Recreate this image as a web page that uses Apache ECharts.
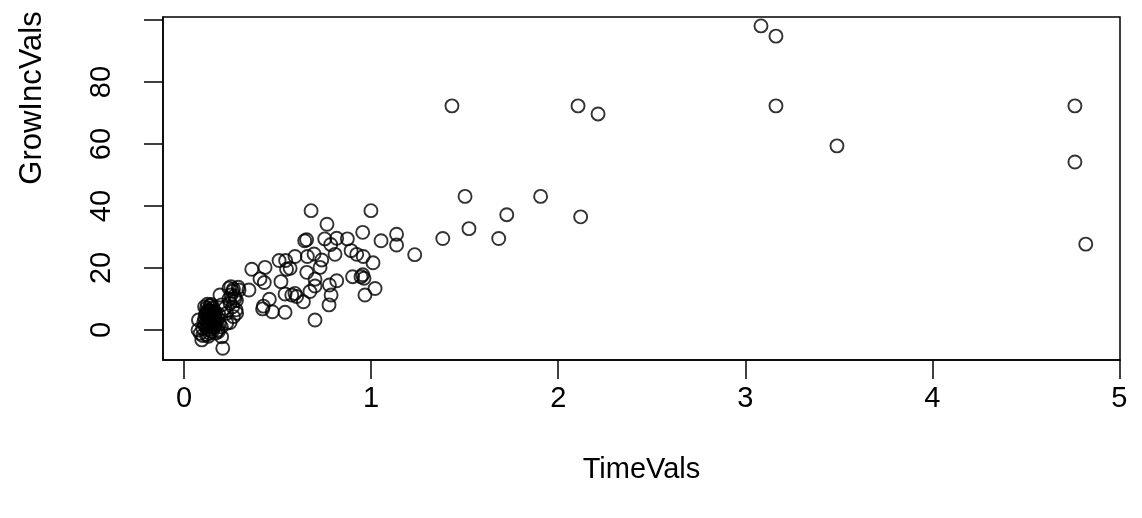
<!DOCTYPE html>
<html>
<head>
<meta charset="utf-8">
<script src="https://cdn.jsdelivr.net/npm/echarts@6/dist/echarts.min.js"></script>
<style>
html,body{margin:0;padding:0;background:#fff;}
#chart{width:1142px;height:518px;}
</style>
</head>
<body>
<div id="chart"></div>
<script>
// ---- data ----
const timeVals = [
  1.432, 2.106, 2.213, 3.084, 3.164, 3.164, 3.490, 4.762, 4.762, 4.820,
  1.502, 1.906, 1.725, 2.120, 1.523, 1.383, 1.682,
  0.679, 0.999, 0.764, 0.955, 1.136, 1.053, 1.136, 1.233, 0.645, 0.655,
  0.752, 0.816, 0.873, 0.784, 0.807, 0.893, 0.923, 0.958, 1.010, 0.593,
  0.659, 0.695, 0.736, 0.727, 0.656, 0.567, 0.700, 0.816, 0.901, 0.946,
  0.962, 0.955, 0.777, 0.700, 0.673, 1.021, 0.967, 0.786, 0.775, 0.638,
  0.593, 0.700,
  0.362, 0.433, 0.406, 0.429, 0.508, 0.543, 0.548, 0.518, 0.540, 0.576,
  0.602, 0.424, 0.472, 0.540, 0.420, 0.456, 0.347, 0.294, 0.264, 0.192,
  0.251, 0.273, 0.246, 0.278, 0.228, 0.281, 0.228, 0.246, 0.219, 0.201,
  0.264, 0.207, 0.201, 0.184, 0.086, 0.077, 0.095, 0.075,
  0.250, 0.260, 0.270, 0.240, 0.280, 0.260, 0.240, 0.290,
  0.110, 0.120, 0.130, 0.140, 0.150, 0.120, 0.130, 0.140, 0.150, 0.110,
  0.120, 0.130, 0.140, 0.150, 0.160, 0.110, 0.120, 0.130, 0.140, 0.150,
  0.160, 0.170, 0.100, 0.100, 0.120, 0.130, 0.170, 0.180, 0.190, 0.160,
  0.180, 0.200, 0.170, 0.145, 0.125,
  0.135, 0.145, 0.155, 0.125, 0.135, 0.145, 0.155, 0.165, 0.115, 0.135,
  0.145, 0.155, 0.125, 0.165, 0.185, 0.105
];
const growIncVals = [
  72.3, 72.3, 69.7, 98.1, 94.8, 72.3, 59.4, 72.3, 54.2, 27.7,
  43.1, 43.1, 37.2, 36.5, 32.7, 29.5, 29.5,
  38.5, 38.5, 34.1, 31.5, 30.9, 28.8, 27.4, 24.3, 28.8, 29.1,
  29.4, 29.6, 29.4, 27.6, 24.4, 25.6, 24.4, 23.7, 21.7, 23.7,
  23.7, 24.5, 22.6, 20.2, 18.6, 19.9, 16.4, 15.9, 17.2, 17.2,
  16.7, 17.8, 14.5, 14.2, 12.4, 13.4, 11.3, 11.3, 8.1, 9.1,
  11.8, 3.2,
  19.6, 20.2, 16.5, 15.3, 22.4, 22.4, 19.6, 15.6, 11.6, 11.3,
  10.8, 7.7, 5.9, 5.7, 6.8, 9.9, 12.9, 12.9, 13.2, 11.3,
  11.3, 10.2, 8.6, 6.5, 5.4, 5.4, 2.2, 2.4, 7.0, 8.1,
  4.3, -5.9, -2.2, -0.5, -1.1, 3.2, -3.2, 0.0,
  14.0, 12.5, 11.0, 13.5, 9.5, 7.5, 10.0, 13.8,
  7.5, 7.0, 6.5, 7.8, 6.8, 5.5, 4.8, 5.2, 4.5, 3.8,
  3.0, 2.5, 3.5, 2.0, 3.0, 1.5, 0.8, 0.2, 1.0, -0.5,
  0.8, 1.8, 0.5, -1.8, -1.5, -2.0, 5.5, 3.8, 2.0, 6.0,
  0.0, 1.0, -1.0, 8.2, 8.3,
  6.2, 6.0, 5.8, 4.2, 3.6, 2.8, 1.2, 4.0, 5.0, -1.0,
  4.0, 7.2, 6.0, 2.2, 5.0, 2.5
];
const xTicks = [0, 1, 2, 3, 4, 5];
const yTicks = [0, 20, 40, 60, 80, 100];
const xTitle = 'TimeVals';
const yTitle = 'GrowIncVals';

const points = timeVals.map((t, i) => [t, growIncVals[i]]);
const FONT = 'Liberation Sans, Arial, Helvetica, sans-serif';
const FS = 29;
const TICK = 19;

// main plot box: x -0.1125..5.003 over 163..1120 px, y -9.68..100.97 over 360..17 px
const X0 = 163, XW = 957, Y0 = 17, YH = 343;
const xMin = -0.1125, xMax = 5.003, yMin = -9.68, yMax = 100.97;
const xPx = v => X0 + (v - xMin) / (xMax - xMin) * XW;
const yPx = v => Y0 + (yMax - v) / (yMax - yMin) * YH;

const gridBase = {containLabel: false, outerBoundsMode: 'none'};

const chart = echarts.init(document.getElementById('chart'));
chart.setOption({
  animation: false,
  grid: [
    Object.assign({left: X0, top: Y0, width: XW, height: YH, show: true, borderColor: '#000', borderWidth: 1.5}, gridBase),
    // tick strip below the box, x 0..5
    Object.assign({left: xPx(xTicks[0]), top: Y0 + YH, width: xPx(xTicks[xTicks.length - 1]) - xPx(xTicks[0]),
      height: TICK, show: false}, gridBase),
    // tick strip left of the box, y 0..100
    Object.assign({left: X0 - TICK, top: yPx(yTicks[yTicks.length - 1]), width: TICK,
      height: yPx(yTicks[0]) - yPx(yTicks[yTicks.length - 1]), show: false}, gridBase)
  ],
  xAxis: [
    {gridIndex: 0, type: 'value', min: xMin, max: xMax,
     name: xTitle, nameLocation: 'middle', nameGap: 95,
     nameTextStyle: {fontFamily: FONT, fontSize: FS, color: '#000'},
     splitLine: {show: false}, axisTick: {show: false}, axisLabel: {show: false},
     axisLine: {show: true, onZero: false, lineStyle: {color: '#000', width: 1.5}}},
    {gridIndex: 1, type: 'value', min: xTicks[0], max: xTicks[xTicks.length - 1], interval: 1,
     axisLine: {show: false, onZero: false}, axisTick: {show: false}, splitLine: {show: false},
     axisLabel: {show: true, margin: 5, fontFamily: FONT, fontSize: FS, color: '#000'}},
    {gridIndex: 2, type: 'value', show: false, min: 0, max: 1}
  ],
  yAxis: [
    {gridIndex: 0, type: 'value', min: yMin, max: yMax,
     splitLine: {show: false}, axisTick: {show: false}, axisLabel: {show: false},
     axisLine: {show: true, onZero: false, lineStyle: {color: '#000', width: 1.5}}},
    {gridIndex: 1, type: 'value', show: false, min: 0, max: 1},
    {gridIndex: 2, type: 'value', min: yTicks[0], max: yTicks[yTicks.length - 1], interval: 20,
     axisLine: {show: false, onZero: false}, axisTick: {show: false}, splitLine: {show: false},
     axisLabel: {show: true, rotate: 90, margin: 28, fontFamily: FONT, fontSize: FS, color: '#000',
       formatter: v => (v === 100 ? '' : String(v))}}
  ],
  graphic: [{
    type: 'text', x: 32, y: 98, rotation: Math.PI / 2,
    style: {text: yTitle, font: '31px ' + FONT, fill: '#000', align: 'center', verticalAlign: 'middle'}
  }],
  series: [
    {
      type: 'scatter', xAxisIndex: 0, yAxisIndex: 0,
      data: points,
      symbol: 'circle',
      symbolSize: 13,
      clip: false,
      itemStyle: {color: 'rgba(0,0,0,0)', borderColor: '#000', borderWidth: 1.9}
    },
    { // x-axis tick marks
      type: 'scatter', xAxisIndex: 1, yAxisIndex: 1, data: [], silent: true,
      markLine: {
        silent: true, symbol: ['none', 'none'], animation: false,
        label: {show: false},
        lineStyle: {color: '#000', width: 1.5, type: 'solid'},
        emphasis: {disabled: true},
        data: xTicks.map(v => ({xAxis: v}))
      }
    },
    { // y-axis tick marks
      type: 'scatter', xAxisIndex: 2, yAxisIndex: 2, data: [], silent: true,
      markLine: {
        silent: true, symbol: ['none', 'none'], animation: false,
        label: {show: false},
        lineStyle: {color: '#000', width: 1.5, type: 'solid'},
        emphasis: {disabled: true},
        data: yTicks.map(v => ({yAxis: v}))
      }
    }
  ]
});
</script>
</body>
</html>
